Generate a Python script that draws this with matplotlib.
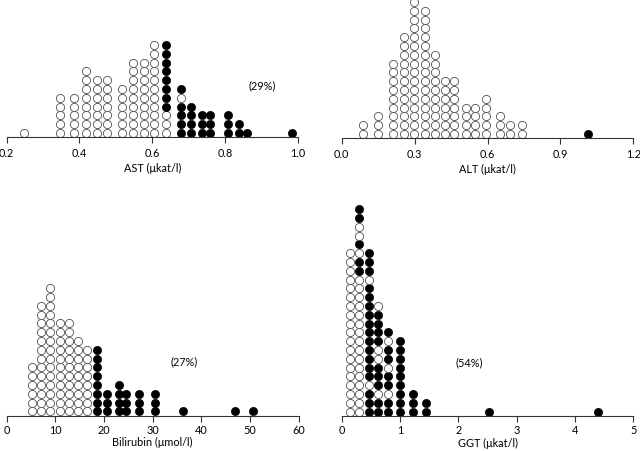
import matplotlib
matplotlib.use("Agg")
import matplotlib.pyplot as plt

plt.rcParams['font.family'] = ['Lato', 'DejaVu Sans']

# ---- data: column positions and stacked dots (bottom-up), 'o' = normal (open), 'x' = raised (filled)
ast_x = [0.248, 0.347, 0.385, 0.417, 0.447, 0.477, 0.518, 0.548, 0.577, 0.606,
         0.637, 0.678, 0.707, 0.737, 0.760, 0.809, 0.838, 0.861, 0.984]
ast_dots = ["o", "ooooo", "ooooo", "oooooooo", "ooooooo", "ooooooo", "oooooo",
            "ooooooooo", "ooooooooo", "ooooooooooo", "oooxxxxxxxx", "xxxxox",
            "xxxx", "xxx", "xxx", "xxx", "xx", "x", "x"]

alt_x = [0.089, 0.151, 0.213, 0.257, 0.299, 0.343, 0.384, 0.425, 0.462,
         0.51, 0.55, 0.593, 0.652, 0.693, 0.744, 1.013]
alt_dots = ["oo", "ooo", "o" * 9, "o" * 12, "o" * 16, "o" * 15, "o" * 10, "o" * 7,
            "o" * 7, "oooo", "oooo", "ooooo", "ooo", "oo", "oo", "x"]

bili_x = [5.14, 6.99, 8.90, 10.95, 12.80, 14.71, 16.56, 18.62, 20.55, 23.07,
          24.45, 27.24, 30.47, 36.16, 46.91, 50.67]
bili_dots = ["o" * 6, "o" * 13, "o" * 15, "o" * 11, "o" * 11, "o" * 9, "o" * 8,
             "x" * 8, "xxx", "xxxx", "xxx", "xxx", "xxx", "x", "x", "x"]

ggt_x = [0.14, 0.30, 0.47, 0.63, 0.79, 1.0, 1.23, 1.45, 2.53, 4.40]
ggt_dots = ["o" * 19, "o" * 16 + "xxoxooxx", "xxxo" + "x" * 11 + "oxxx",
            "xxoxxxooxxxxo", "xxoxxoxxox", "x" * 9, "xxx", "xx", "x", "x"]

ast_ticks = [0.2, 0.4, 0.6, 0.8, 1.0]
ast_ticklabels = ["0.2", "0.4", "0.6", "0.8", "1.0"]
alt_ticks = [0.0, 0.3, 0.6, 0.9, 1.2]
alt_ticklabels = ["0.0", "0.3", "0.6", "0.9", "1.2"]
bili_ticks = [0, 10, 20, 30, 40, 50, 60]
bili_ticklabels = ["0", "10", "20", "30", "40", "50", "60"]
ggt_ticks = [0, 1, 2, 3, 4, 5]
ggt_ticklabels = ["0", "1", "2", "3", "4", "5"]

W, H = 640, 452
STEP = 8.8  # pixel spacing of stacked dots
FS = 7.8

fig = plt.figure(figsize=(W / 100, H / 100), dpi=100)


def make_panel(left, axis_y, width, height, xs, dots, ticks, ticklabels, xlabel,
               pct=None, pct_pos=None, pad=3, labelpad=3):
    ax = fig.add_axes([left / W, (H - axis_y) / H, width / W, height / H])
    ax.set_xlim(ticks[0], ticks[-1])
    ax.set_ylim(0, height / STEP)
    for x, col in zip(xs, dots):
        for k, c in enumerate(col):
            y = k + 0.5
            if c == 'x':
                ax.plot(x, y, 'o', ms=5.9, mfc='black', mec='black', mew=0.5,
                        clip_on=False)
            else:
                ax.plot(x, y, 'o', ms=5.9, mfc='white', mec='#505050', mew=0.6,
                        clip_on=False)
    for s in ('left', 'right', 'top'):
        ax.spines[s].set_visible(False)
    ax.spines['bottom'].set_linewidth(0.8)
    ax.spines['bottom'].set_color('#333333')
    ax.set_yticks([])
    ax.set_xticks(ticks)
    ax.set_xticklabels(ticklabels)
    ax.tick_params(axis='x', direction='out', length=4, width=0.8, color='#333333',
                   labelsize=FS, pad=pad)
    ax.set_xlabel(xlabel, fontsize=FS, labelpad=labelpad)
    if pct is not None:
        fig.text(pct_pos[0] / W, 1 - pct_pos[1] / H, pct, fontsize=FS,
                 ha='center', va='center')
    return ax


make_panel(6.7, 138.3, 291, 140, ast_x, ast_dots, ast_ticks, ast_ticklabels,
           "AST (μkat/l)", "(29%)", (262, 86))
make_panel(341.7, 139.3, 291.6, 140, alt_x, alt_dots, alt_ticks, alt_ticklabels,
           "ALT (μkat/l)")
make_panel(6.7, 416.7, 292, 230, bili_x, bili_dots, bili_ticks, bili_ticklabels,
           "Bilirubin (μmol/l)", "(27%)", (184, 362), pad=2, labelpad=1)
make_panel(341.7, 417, 291.6, 230, ggt_x, ggt_dots, ggt_ticks, ggt_ticklabels,
           "GGT (μkat/l)", "(54%)", (469, 363), pad=2, labelpad=1)

fig.savefig("out.png", dpi=100)
